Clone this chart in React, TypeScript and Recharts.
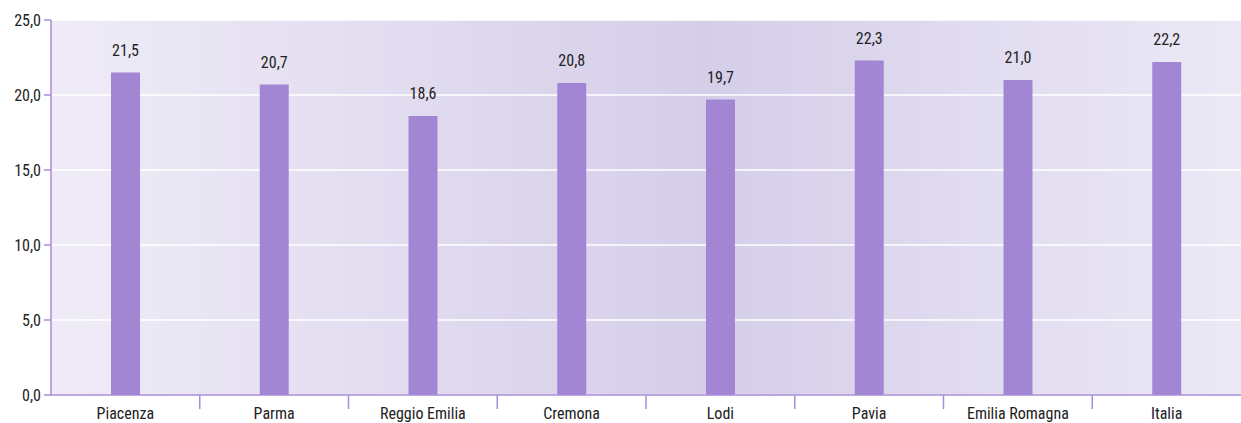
import { BarChart, Bar, XAxis, YAxis, CartesianGrid, LabelList } from "recharts"

const provinces = [
  "Piacenza",
  "Parma",
  "Reggio Emilia",
  "Cremona",
  "Lodi",
  "Pavia",
  "Emilia Romagna",
  "Italia",
]
const values = [21.5, 20.7, 18.6, 20.8, 19.7, 22.3, 21.0, 22.2]
const yTicks = [0, 5, 10, 15, 20, 25]

const data = provinces.map((name, i) => ({ name, value: values[i] }))

const W = 1241
const H = 423
const LEFT = 51
const FONT = "'Liberation Sans Narrow', 'Roboto Condensed', 'Arial Narrow', sans-serif"
const fmt = (v: number) => v.toFixed(1).replace(".", ",")

// category label plus a separator tick at the right edge of each band
function CategoryTick(props: any) {
  const { x, y, payload, index } = props
  const step = (W - LEFT) / provinces.length
  return (
    <g>
      {index < provinces.length - 1 && (
        <line x1={x + step / 2} x2={x + step / 2} y1={y} y2={y + 14} stroke="#a98bd9" strokeWidth={1.5} />
      )}
      <text x={x} y={y + 24} textAnchor="middle" fill="#222" fontSize={16} fontFamily={FONT}>
        {payload.value}
      </text>
    </g>
  )
}

export default function App() {
  return (
    <div style={{ position: "absolute", left: 0, top: 0, width: W, height: H, background: "#fff" }}>
      <BarChart width={W} height={H} data={data} margin={{ top: 20, right: 0, bottom: 0, left: 0 }} barSize={29}>
        <defs>
          <linearGradient id="plotBg" x1="0" y1="0" x2="1" y2="0">
            <stop offset="0%" stopColor="#efecf7" />
            <stop offset="55%" stopColor="#d5cee9" />
            <stop offset="100%" stopColor="#ece9f6" />
          </linearGradient>
        </defs>
        <CartesianGrid vertical={false} stroke="#ffffff" strokeWidth={1.5} fill="url(#plotBg)" fillOpacity={1} />
        <XAxis
          dataKey="name"
          height={28}
          interval={0}
          tickSize={0}
          tickMargin={0}
          tickLine={false}
          axisLine={{ stroke: "#a98bd9", strokeWidth: 1.5 }}
          tick={<CategoryTick />}
        />
        <YAxis
          width={LEFT}
          domain={[0, 25]}
          ticks={yTicks}
          tickFormatter={fmt}
          tickSize={7}
          tickMargin={3}
          axisLine={{ stroke: "#a98bd9", strokeWidth: 1.5 }}
          tickLine={{ stroke: "#a98bd9", strokeWidth: 1.5 }}
          tick={{ fill: "#222", fontSize: 16, fontFamily: FONT }}
        />
        <Bar dataKey="value" fill="#a386d3" isAnimationActive={false}>
          <LabelList
            dataKey="value"
            position="top"
            offset={17}
            formatter={(v: any) => fmt(Number(v))}
            style={{ fill: "#222", fontSize: 16, fontFamily: FONT }}
          />
        </Bar>
      </BarChart>
    </div>
  )
}
